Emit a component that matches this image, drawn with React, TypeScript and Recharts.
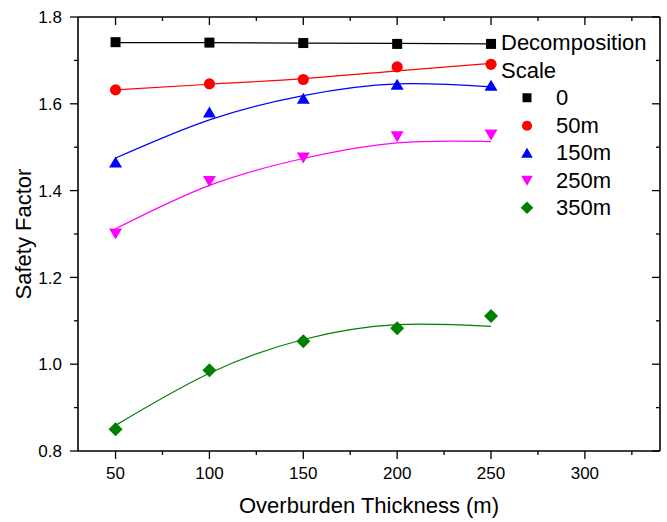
import React from 'react';
import { ComposedChart, Line, XAxis, YAxis, Legend } from 'recharts';

// overburden thickness (m)
const thickness = [50, 100, 150, 200, 250];

// measured safety factors, one list per decomposition scale
const scale0 = [1.742, 1.741, 1.740, 1.738, 1.738];
const scale50 = [1.632, 1.646, 1.656, 1.685, 1.691];
const scale150 = [1.466, 1.581, 1.613, 1.645, 1.643];
const scale250 = [1.300, 1.421, 1.475, 1.524, 1.528];
const scale350 = [0.850, 0.986, 1.053, 1.083, 1.111];

// fitted curves at the same thicknesses
const fit0 = [1.741, 1.741, 1.740, 1.739, 1.738];
const fit50 = [1.632, 1.645, 1.658, 1.676, 1.693];
const fit150 = [1.475, 1.563, 1.619, 1.646, 1.639];
const fit250 = [1.312, 1.412, 1.474, 1.510, 1.513];
const fit350 = [0.859, 0.979, 1.057, 1.091, 1.087];

const legendNames = ['0', '50m', '150m', '250m', '350m'];
const xTicks = [50, 75, 100, 125, 150, 175, 200, 225, 250, 275, 300, 325];
const yTicks = [0.8, 0.9, 1.0, 1.1, 1.2, 1.3, 1.4, 1.5, 1.6, 1.7, 1.8];

const FONT = '"Liberation Sans", Arial, Helvetica, sans-serif';
const COLORS = ['#000000', '#ff0000', '#0000ff', '#ff00ff', '#008000'];
const SHAPES = ['square', 'circle', 'up', 'down', 'diamond'];

const rows = thickness.map((x, i) => ({
  x,
  s0: scale0[i], s1: scale50[i], s2: scale150[i], s3: scale250[i], s4: scale350[i],
  f0: fit0[i], f1: fit50[i], f2: fit150[i], f3: fit250[i], f4: fit350[i],
}));

function Marker({ cx, cy, shape, color, k = 1 }: any) {
  if (cx == null || cy == null) return null;
  if (shape === 'square') {
    const h = 5 * k;
    return <rect x={cx - h} y={cy - h} width={2 * h} height={2 * h} fill={color} />;
  }
  if (shape === 'circle') return <circle cx={cx} cy={cy} r={5.6 * k} fill={color} />;
  if (shape === 'up') {
    const w = 6.5 * k, h = 5.5 * k;
    return <polygon points={`${cx - w},${cy + h} ${cx + w},${cy + h} ${cx},${cy - h}`} fill={color} />;
  }
  if (shape === 'down') {
    const w = 6.5 * k, h = 5.5 * k;
    return <polygon points={`${cx - w},${cy - h} ${cx + w},${cy - h} ${cx},${cy + h}`} fill={color} />;
  }
  const d = 7 * k;
  return <polygon points={`${cx},${cy - d} ${cx + d},${cy} ${cx},${cy + d} ${cx - d},${cy}`} fill={color} />;
}

const isMajorX = (v: number) => v % 50 === 0;
const isMajorY = (v: number) => Math.round(v * 10) % 2 === 0;

function BottomTick({ x, y, payload }: any) {
  const v = payload.value;
  const ay = y - 16;
  const major = isMajorX(v);
  return (
    <g>
      <line x1={x} x2={x} y1={ay} y2={ay + (major ? 8 : 4)} stroke="#000" strokeWidth={1.3} />
      {major && (
        <text x={x} y={ay + 28} textAnchor="middle" fontSize={17} fontFamily={FONT} fill="#000">{v}</text>
      )}
    </g>
  );
}

function TopTick({ x, y, payload }: any) {
  const ay = y - 8;
  return <line x1={x} x2={x} y1={ay} y2={ay + (isMajorX(payload.value) ? 8 : 4)} stroke="#000" strokeWidth={1.3} />;
}

function LeftTick({ x, y, payload }: any) {
  const v = payload.value;
  const ax = x + 16;
  const major = isMajorY(v);
  return (
    <g>
      <line x1={ax} x2={ax - (major ? 8 : 4)} y1={y} y2={y} stroke="#000" strokeWidth={1.3} />
      {major && (
        <text x={ax - 16} y={y} dy="0.36em" textAnchor="end" fontSize={17} fontFamily={FONT} fill="#000">{v.toFixed(1)}</text>
      )}
    </g>
  );
}

function RightTick({ x, y, payload }: any) {
  const ax = x + 8;
  return <line x1={ax} x2={ax - (isMajorY(payload.value) ? 8 : 4)} y1={y} y2={y} stroke="#000" strokeWidth={1.3} />;
}

function ScaleLegend() {
  const rowH = 27.5;
  return (
    <div style={{ fontFamily: FONT, fontSize: 22, color: '#000', lineHeight: `${rowH}px` }}>
      <div style={{ height: rowH, whiteSpace: 'nowrap' }}>Decomposition</div>
      <div style={{ height: rowH }}>Scale</div>
      {legendNames.map((name, i) => (
        <div key={name} style={{ display: 'flex', alignItems: 'center', height: rowH }}>
          <svg width={55} height={rowH}>
            <Marker cx={26} cy={rowH / 2} shape={SHAPES[i]} color={COLORS[i]} k={0.9} />
          </svg>
          <span>{name}</span>
        </div>
      ))}
    </div>
  );
}

const axisLine = { stroke: '#000', strokeWidth: 1.6 };

export default function App() {
  return (
    <div style={{ position: 'absolute', left: 0, top: 0, background: '#fff' }}>
      <ComposedChart width={667} height={522} data={rows} margin={{ top: 17, right: 7, left: 0, bottom: 0 }}>
        <XAxis
          dataKey="x" type="number" domain={[30, 340]} ticks={xTicks} interval={0}
          height={71} tickSize={8} tickMargin={8} tickLine={false} axisLine={axisLine}
          tick={<BottomTick />} allowDataOverflow
          label={{ value: 'Overburden Thickness (m)', position: 'insideBottom', offset: 9, fontSize: 22, fontFamily: FONT, fill: '#000' }}
        />
        <XAxis
          xAxisId="top" orientation="top" mirror dataKey="x" type="number" domain={[30, 340]}
          ticks={xTicks} interval={0} tickSize={8} tickMargin={0} tickLine={false}
          axisLine={axisLine} tick={<TopTick />} allowDataOverflow
        />
        <YAxis
          type="number" domain={[0.8, 1.8]} ticks={yTicks} interval={0} width={78}
          tickSize={8} tickMargin={8} tickLine={false} axisLine={axisLine} tick={<LeftTick />} allowDataOverflow
          label={{ value: 'Safety Factor', angle: -90, position: 'insideLeft', offset: 23, fontSize: 22, fontFamily: FONT, fill: '#000', style: { textAnchor: 'middle' } }}
        />
        <YAxis
          yAxisId="right" orientation="right" mirror type="number" domain={[0.8, 1.8]}
          ticks={yTicks} interval={0} tickSize={8} tickMargin={0} tickLine={false}
          axisLine={axisLine} tick={<RightTick />} allowDataOverflow
        />
        <Legend
          layout="vertical" align="center" verticalAlign="middle"
          wrapperStyle={{ left: 501, top: 29, width: 'auto' }}
          content={() => <ScaleLegend />}
        />
        {COLORS.map((c, i) => (
          <Line
            key={`fit-${i}`} dataKey={`f${i}`} type={i === 0 ? 'linear' : 'natural'}
            stroke={c} strokeWidth={1.2} dot={false} activeDot={false}
            isAnimationActive={false} legendType="none"
          />
        ))}
        {COLORS.map((c, i) => (
          <Line
            key={`pts-${i}`} dataKey={`s${i}`} stroke="none" activeDot={false}
            isAnimationActive={false} legendType="none"
            dot={(p: any) => <Marker key={`m-${i}-${p.index}`} cx={p.cx} cy={p.cy} shape={SHAPES[i]} color={c} />}
          />
        ))}
      </ComposedChart>
    </div>
  );
}
